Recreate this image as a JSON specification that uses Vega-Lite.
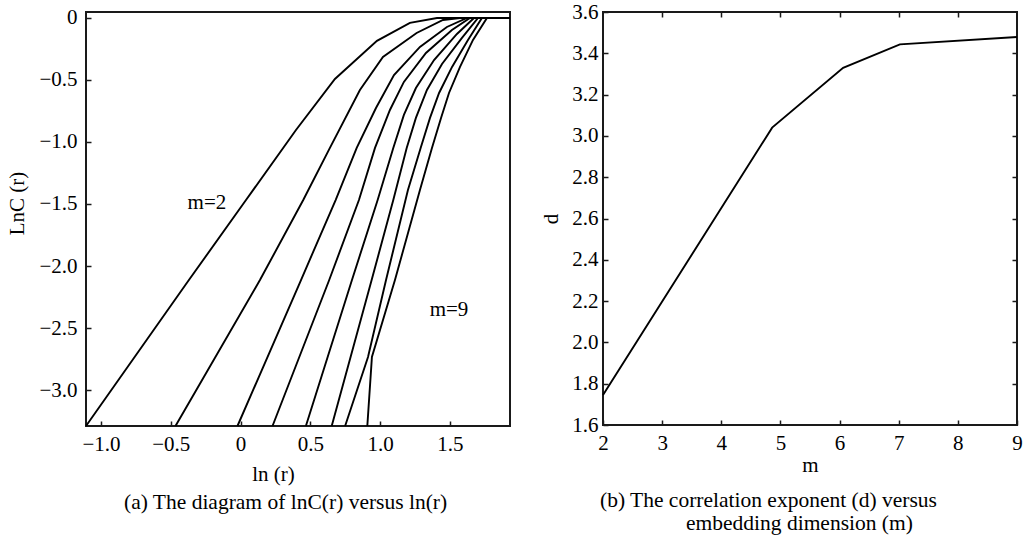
{
  "$schema": "https://vega.github.io/schema/vega-lite/v6.json",
  "padding": {"left": 5, "top": 0, "right": 3, "bottom": 2},
  "spacing": 24,
  "config": {
    "font": "Liberation Serif",
    "view": {"stroke": "#1a1a1a", "strokeWidth": 2},
    "axis": {
      "labelFont": "Liberation Serif", "titleFont": "Liberation Serif",
      "labelFontSize": 21, "titleFontSize": 21, "titleFontWeight": "normal",
      "labelColor": "#000", "titleColor": "#000",
      "tickColor": "#1a1a1a", "tickSize": -5, "tickWidth": 1.5,
      "domain": false, "grid": false,
      "labelOverlap": false, "labelFlush": false, "labelBound": false
    },
    "title": {"font": "Liberation Serif", "fontSize": 21.5, "fontWeight": "normal", "color": "#000"},
    "text": {"font": "Liberation Serif", "fontSize": 21}
  },
  "hconcat": [
    {
      "width": 424,
      "height": 414,
      "title": {"text": "(a) The diagram of lnC(r) versus ln(r)", "orient": "bottom", "anchor": "start", "frame": "group", "dx": 38, "offset": 8},
      "layer": [
        {
          "data": {"values": [
            {"m": "2", "x": -1.107, "y": -3.29}, {"m": "2", "x": -0.370, "y": -2.113}, {"m": "2", "x": 0.039, "y": -1.468}, {"m": "2", "x": 0.397, "y": -0.903}, {"m": "2", "x": 0.676, "y": -0.492}, {"m": "2", "x": 0.977, "y": -0.185}, {"m": "2", "x": 1.213, "y": -0.040}, {"m": "2", "x": 1.407, "y": 0}, {"m": "2", "x": 1.93, "y": 0},
            {"m": "3", "x": -0.466, "y": -3.29}, {"m": "3", "x": 0.139, "y": -2.113}, {"m": "3", "x": 0.449, "y": -1.468}, {"m": "3", "x": 0.640, "y": -1.048}, {"m": "3", "x": 0.855, "y": -0.581}, {"m": "3", "x": 1.020, "y": -0.315}, {"m": "3", "x": 1.261, "y": -0.121}, {"m": "3", "x": 1.450, "y": -0.016}, {"m": "3", "x": 1.572, "y": 0}, {"m": "3", "x": 1.93, "y": 0},
            {"m": "4", "x": -0.022, "y": -3.29}, {"m": "4", "x": 0.433, "y": -2.113}, {"m": "4", "x": 0.681, "y": -1.468}, {"m": "4", "x": 0.832, "y": -1.048}, {"m": "4", "x": 0.970, "y": -0.726}, {"m": "4", "x": 1.099, "y": -0.460}, {"m": "4", "x": 1.285, "y": -0.234}, {"m": "4", "x": 1.478, "y": -0.073}, {"m": "4", "x": 1.622, "y": 0}, {"m": "4", "x": 1.93, "y": 0},
            {"m": "5", "x": 0.229, "y": -3.29}, {"m": "5", "x": 0.635, "y": -2.113}, {"m": "5", "x": 0.848, "y": -1.468}, {"m": "5", "x": 0.963, "y": -1.048}, {"m": "5", "x": 1.070, "y": -0.742}, {"m": "5", "x": 1.170, "y": -0.516}, {"m": "5", "x": 1.328, "y": -0.282}, {"m": "5", "x": 1.514, "y": -0.097}, {"m": "5", "x": 1.643, "y": 0}, {"m": "5", "x": 1.93, "y": 0},
            {"m": "6", "x": 0.468, "y": -3.29}, {"m": "6", "x": 0.798, "y": -2.113}, {"m": "6", "x": 0.982, "y": -1.468}, {"m": "6", "x": 1.094, "y": -1.048}, {"m": "6", "x": 1.170, "y": -0.782}, {"m": "6", "x": 1.256, "y": -0.565}, {"m": "6", "x": 1.386, "y": -0.339}, {"m": "6", "x": 1.550, "y": -0.129}, {"m": "6", "x": 1.672, "y": 0}, {"m": "6", "x": 1.93, "y": 0},
            {"m": "7", "x": 0.653, "y": -3.29}, {"m": "7", "x": 0.939, "y": -2.113}, {"m": "7", "x": 1.094, "y": -1.468}, {"m": "7", "x": 1.190, "y": -1.048}, {"m": "7", "x": 1.256, "y": -0.806}, {"m": "7", "x": 1.335, "y": -0.581}, {"m": "7", "x": 1.443, "y": -0.371}, {"m": "7", "x": 1.586, "y": -0.161}, {"m": "7", "x": 1.701, "y": 0}, {"m": "7", "x": 1.93, "y": 0},
            {"m": "8", "x": 0.749, "y": -3.29}, {"m": "8", "x": 0.913, "y": -2.734}, {"m": "8", "x": 1.042, "y": -2.113}, {"m": "8", "x": 1.199, "y": -1.387}, {"m": "8", "x": 1.290, "y": -1.048}, {"m": "8", "x": 1.357, "y": -0.806}, {"m": "8", "x": 1.422, "y": -0.605}, {"m": "8", "x": 1.515, "y": -0.395}, {"m": "8", "x": 1.629, "y": -0.177}, {"m": "8", "x": 1.729, "y": 0}, {"m": "8", "x": 1.93, "y": 0},
            {"m": "9", "x": 0.908, "y": -3.29}, {"m": "9", "x": 0.941, "y": -2.734}, {"m": "9", "x": 1.106, "y": -2.113}, {"m": "9", "x": 1.285, "y": -1.387}, {"m": "9", "x": 1.371, "y": -1.048}, {"m": "9", "x": 1.436, "y": -0.806}, {"m": "9", "x": 1.493, "y": -0.605}, {"m": "9", "x": 1.572, "y": -0.395}, {"m": "9", "x": 1.665, "y": -0.177}, {"m": "9", "x": 1.765, "y": 0}, {"m": "9", "x": 1.93, "y": 0}
          ]},
          "mark": {"type": "line", "color": "black", "strokeWidth": 1.9},
          "encoding": {
            "x": {"field": "x", "type": "quantitative",
              "scale": {"domain": [-1.107, 1.93], "nice": false, "zero": false},
              "axis": {"values": [-1, -0.5, 0, 0.5, 1, 1.5], "labelExpr": "datum.value === 0 ? '0' : format(datum.value, '.1f')", "title": "ln (r)", "labelPadding": 12, "titlePadding": 9, "titleX": 187}},
            "y": {"field": "y", "type": "quantitative",
              "scale": {"domain": [-3.29, 0.048], "nice": false, "zero": false},
              "axis": {"values": [0, -0.5, -1, -1.5, -2, -2.5, -3], "labelExpr": "datum.value === 0 ? '0' : format(datum.value, '.1f')", "title": "LnC (r)", "labelPadding": 14, "titlePadding": 11, "titleY": 191}},
            "detail": {"field": "m"}
          }
        },
        {
          "data": {"values": [
            {"label": "m=2", "x": -0.241, "y": -1.49},
            {"label": "m=9", "x": 1.493, "y": -2.355}
          ]},
          "mark": {"type": "text", "font": "Liberation Serif", "fontSize": 21, "align": "center", "baseline": "middle", "color": "#000"},
          "encoding": {
            "x": {"field": "x", "type": "quantitative"},
            "y": {"field": "y", "type": "quantitative"},
            "text": {"field": "label"}
          }
        }
      ]
    },
    {
      "width": 414,
      "height": 413,
      "title": {"text": ["(b) The correlation exponent (d) versus", "\u200b\u00a0\u00a0\u00a0\u00a0\u00a0\u00a0\u00a0\u00a0\u00a0\u00a0\u00a0\u00a0\u00a0\u00a0\u00a0\u00a0embedding dimension (m)"], "orient": "bottom", "anchor": "start", "frame": "group", "dx": -3, "offset": 15, "lineHeight": 22.5},
      "data": {"values": [
        {"m": 2, "d": 1.745},
        {"m": 4.86, "d": 3.04},
        {"m": 6.06, "d": 3.33},
        {"m": 7.02, "d": 3.443},
        {"m": 9, "d": 3.479}
      ]},
      "layer": [
        {
          "mark": {"type": "line", "color": "black", "strokeWidth": 1.9},
          "encoding": {
            "x": {"field": "m", "type": "quantitative",
              "scale": {"domain": [2, 9], "nice": false, "zero": false},
              "axis": {"values": [2, 3, 4, 5, 6, 7, 8, 9], "format": "d", "title": "m", "labelPadding": 12, "titlePadding": 1}},
            "y": {"field": "d", "type": "quantitative",
              "scale": {"domain": [1.6, 3.6], "nice": false, "zero": false},
              "axis": {"values": [1.6, 1.8, 2.0, 2.2, 2.4, 2.6, 2.8, 3.0, 3.2, 3.4, 3.6], "format": ".1f", "title": "d", "labelPadding": 10, "titlePadding": 10}}
          }
        },
        {
          "mark": {"type": "line", "opacity": 0},
          "encoding": {
            "x": {"field": "m", "type": "quantitative",
              "axis": {"orient": "top", "values": [3, 4, 5, 6, 7, 8], "labels": false, "title": null}},
            "y": {"field": "d", "type": "quantitative",
              "axis": {"orient": "right", "values": [1.8, 2.0, 2.2, 2.4, 2.6, 2.8, 3.0, 3.2, 3.4], "labels": false, "title": null}}
          }
        }
      ],
      "resolve": {"axis": {"x": "independent", "y": "independent"}}
    }
  ]
}
